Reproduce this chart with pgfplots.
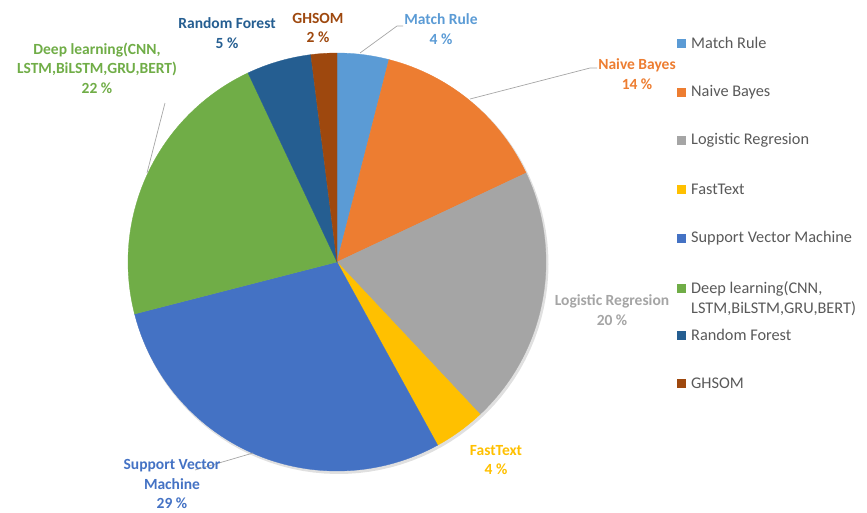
\documentclass[border=0pt]{standalone}
\usepackage{pgfplots}
\pgfplotsset{compat=1.18}
\usepackage{fontspec}
\setmainfont{Carlito}

\definecolor{cMR}{HTML}{5B9BD5}
\definecolor{cNB}{HTML}{ED7D31}
\definecolor{cLR}{HTML}{A5A5A5}
\definecolor{cFT}{HTML}{FFC000}
\definecolor{cSVM}{HTML}{4472C4}
\definecolor{cDL}{HTML}{70AD47}
\definecolor{cRF}{HTML}{255E91}
\definecolor{cGH}{HTML}{9E480E}
\definecolor{legtext}{HTML}{595959}
\definecolor{leader}{HTML}{A6A6A6}

% pie centre and radius (pixel-like units)
\def\cx{337}
\def\cy{262}
\def\R{209}
% slice between cumulative shares #2 and #3 (percent), clockwise from 12 o'clock
\newcommand\pieslice[3]{%
  \addplot[fill=#1, draw=#1, line width=0.3pt, domain={90-3.6*#3}:{90-3.6*#2}, samples=80, variable=\t]
    ({\cx+\R*cos(\t)}, {\cy-\R*sin(\t)}) -- (axis cs:\cx,\cy) -- cycle;}

\newcommand\lab[4]{\node[font=\fontsize{15.5}{19.5}\selectfont\bfseries, text=#1, align=center] at (axis cs:#2,#3) {#4};}
\newcommand\leg[3]{%
  \fill[#1] (axis cs:677,#2-4.5) rectangle (axis cs:686,#2+4.5);
  \node[font=\fontsize{16.3}{20}\selectfont, text=legtext, anchor=west, align=left, inner sep=0pt] at (axis cs:691,#2) {#3};}

\begin{document}
\begin{tikzpicture}
\begin{axis}[
  x=1pt, y=1pt,
  xmin=0, xmax=867, ymin=0, ymax=512,
  y dir=reverse,
  hide axis, clip=false,
]
\path (axis cs:0,0) rectangle (axis cs:867,512);

% faint shadow
\addplot[fill=black!12, draw=none, domain=0:360, samples=120, variable=\t]
  ({\cx+1.5+(\R+1)*cos(\t)}, {\cy+2+(\R+1)*sin(\t)}) -- cycle;

% shares: 4, 14, 20, 4, 29, 22, 5, 2
\pieslice{cMR}{0}{4}
\pieslice{cNB}{4}{18}
\pieslice{cLR}{18}{38}
\pieslice{cFT}{38}{42}
\pieslice{cSVM}{42}{71}
\pieslice{cDL}{71}{93}
\pieslice{cRF}{93}{98}
\pieslice{cGH}{98}{100}

% leader lines
\draw[leader, line width=0.7pt] (axis cs:360,53) -- (axis cs:397,26) -- (axis cs:403,26);
\draw[leader, line width=0.7pt] (axis cs:470,99) -- (axis cs:590,68) -- (axis cs:597,68);
\draw[leader, line width=0.7pt] (axis cs:253,453) -- (axis cs:195,470);
\draw[leader, line width=0.7pt] (axis cs:147,173) -- (axis cs:165,103);

% data labels
\lab{cMR}{441}{29}{Match Rule\\4 \%}
\lab{cNB}{637}{74}{Naive Bayes\\14 \%}
\lab{cLR}{612}{310}{Logistic Regresion\\20 \%}
\lab{cFT}{496}{460}{FastText\\4 \%}
\lab{cSVM}{172}{484}{Support Vector\\Machine\\29 \%}
\lab{cDL}{97}{68}{Deep learning(CNN,\\LSTM,BiLSTM,GRU,BERT)\\22 \%}
\lab{cRF}{227}{33}{Random Forest\\5 \%}
\lab{cGH}{318}{28}{GHSOM\\2 \%}

% legend
\leg{cMR}{43}{Match Rule}
\leg{cNB}{92}{Naive Bayes}
\leg{cLR}{140}{Logistic Regresion}
\leg{cFT}{189}{FastText}
\leg{cSVM}{238}{Support Vector Machine}
\fill[cDL] (axis cs:677,283.5) rectangle (axis cs:686,292.5);
\node[font=\fontsize{16.3}{20}\selectfont, text=legtext, anchor=north west, align=left, inner sep=0pt] at (axis cs:691,281) {Deep learning(CNN,\\LSTM,BiLSTM,GRU,BERT)};
\leg{cRF}{335}{Random Forest}
\leg{cGH}{383}{GHSOM}
\end{axis}
\end{tikzpicture}
\end{document}
